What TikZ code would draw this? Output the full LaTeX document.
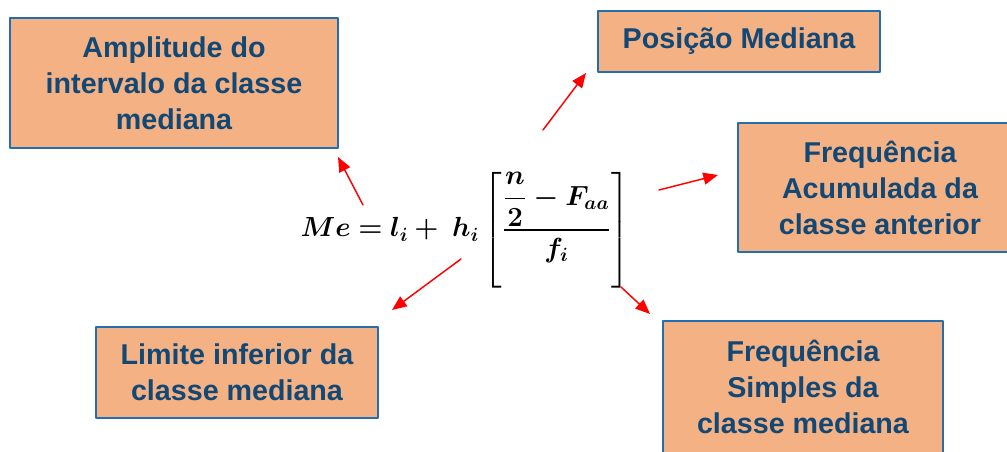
\documentclass[tikz,border=0pt]{standalone}
\usepackage{amsmath}
\usepackage{bm}
\usepackage{fontspec}
\setmainfont{Liberation Sans}
\usetikzlibrary{arrows.meta}

\definecolor{caixa}{RGB}{244,177,131}
\definecolor{borda}{RGB}{36,110,176}
\definecolor{texto}{RGB}{18,72,118}

\begin{document}
\begin{tikzpicture}[x=0.75pt, y=-0.75pt, line cap=round, line join=round,
    rotulo/.style={draw=borda, line width=2.2pt, fill=caixa, text=texto,
        font=\fontsize{21.5}{27}\selectfont\bfseries, align=center,
        inner sep=0pt},
    seta/.style={red, line width=1.1pt, -{Triangle[length=11pt, width=9pt]}}]

\useasboundingbox (0,0) rectangle (1007,452);

% Formula
\node (Me) at (465,230) {\fontsize{20}{24}\selectfont
    $\bm{Me = l_i + \ h_i\left[\dfrac{\dfrac{n}{2} - F_{aa}}{f_i}\right]}$};

% Caixas
\node[rotulo, minimum width=328pt*0.75, minimum height=130pt*0.75] (amp) at (174,83)
    {Amplitude do\\intervalo da classe\\mediana};
\node[rotulo, minimum width=282pt*0.75, minimum height=61pt*0.75] (pos) at (739,41.5)
    {Posição Mediana};
\node[rotulo, minimum width=284pt*0.75, minimum height=129pt*0.75] (acu) at (880,187.5)
    {Frequência\\Acumulada da\\classe anterior};
\node[rotulo, minimum width=280pt*0.75, minimum height=132pt*0.75] (sim) at (803,387)
    {Frequência\\Simples da\\classe mediana};
\node[rotulo, minimum width=282pt*0.75, minimum height=91pt*0.75] (lim) at (237,372.5)
    {Limite inferior da\\classe mediana};

% Extremos das setas
\coordinate (amp-a) at (363,205);
\coordinate (amp-b) at (338,157);
\coordinate (pos-a) at (543,130);
\coordinate (pos-b) at (586,73);
\coordinate (acu-a) at (659,190);
\coordinate (acu-b) at (718,175);
\coordinate (sim-a) at (621,287);
\coordinate (sim-b) at (650,314);
\coordinate (lim-a) at (461,259);
\coordinate (lim-b) at (392,310);

% Setas
\draw[seta] (amp-a) -- (amp-b);
\draw[seta] (pos-a) -- (pos-b);
\draw[seta] (acu-a) -- (acu-b);
\draw[seta] (sim-a) -- (sim-b);
\draw[seta] (lim-a) -- (lim-b);

\end{tikzpicture}
\end{document}
